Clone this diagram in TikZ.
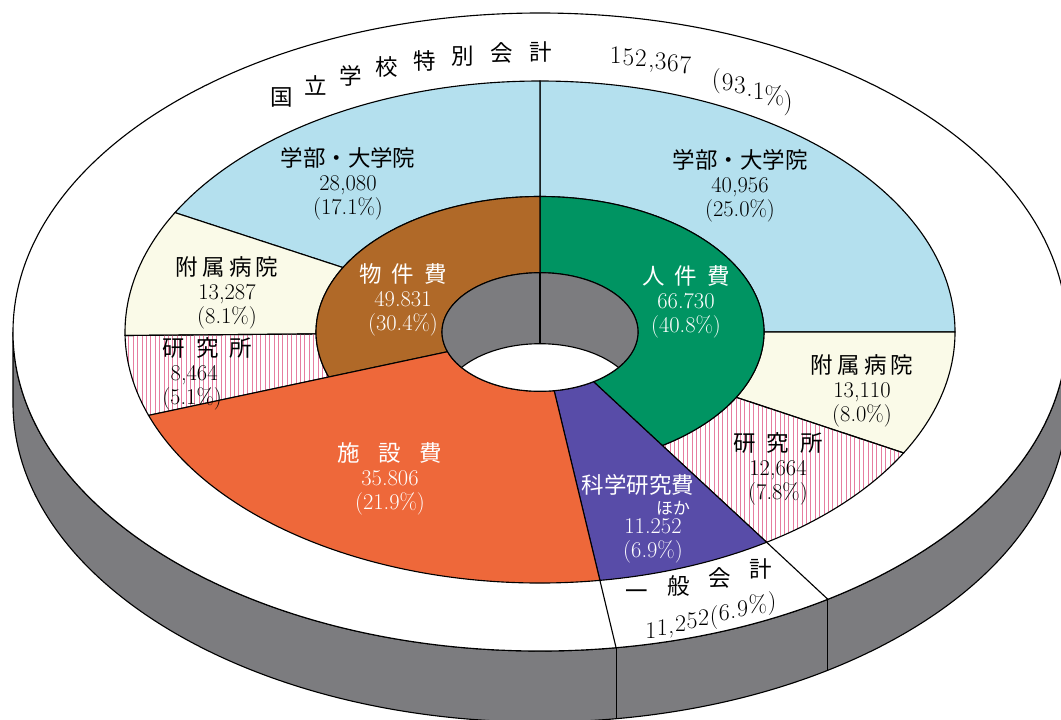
\documentclass[tikz,border=0pt]{standalone}
\usepackage{fontspec}
\newfontfamily\jp{Noto Sans CJK JP}
\newcommand{\jt}[1]{{\jp #1}}

\definecolor{gakubu}{RGB}{180,224,238}
\definecolor{fuzoku}{RGB}{250,250,232}
\definecolor{kenkyu}{RGB}{230,125,160}
\definecolor{jinken}{RGB}{0,148,98}
\definecolor{butsuken}{RGB}{176,105,40}
\definecolor{shisetsu}{RGB}{238,104,58}
\definecolor{kaken}{RGB}{88,76,168}
\definecolor{sidegray}{RGB}{124,124,127}

% ring segment: r1 b1 r2 b2 from-angle to-angle
\newcommand{\ringseg}[6]{(#5:#1 and #2) -- (#5:#3 and #4)
  arc[start angle=#5, end angle=#6, x radius=#3, y radius=#4]
  -- (#6:#1 and #2)
  arc[start angle=#6, end angle=#5, x radius=#1, y radius=#2] -- cycle}

\begin{document}
\begin{tikzpicture}[x=0.25mm, y=0.25mm,
    edge/.style={draw=black, line width=0.8pt},
    stripe/.style={draw=kenkyu, line width=0.6pt},
    lbl/.style={align=center, inner sep=0pt, font=\fontsize{16}{17}\selectfont},
    wlbl/.style={lbl, text=white},
    arcjp/.style={inner sep=0pt, font=\jp\fontsize{16}{16}\selectfont},
    arcnum/.style={inner sep=0pt, anchor=base, font=\fontsize{18}{18}\selectfont},
    glyph/.style={inner sep=0pt, anchor=base, font=\fontsize{17}{17}\selectfont}]
    \useasboundingbox (0,0) rectangle (1061,-719);
    \clip (0,0) rectangle (1061,-719);

    \begin{scope}[shift={(540,-332)}, yscale=-1]
        % disk side and top face
        \fill[sidegray, edge] (0:527 and 319)
            arc[start angle=0, end angle=180, x radius=527, y radius=319]
            -- ++(0,71)
            arc[start angle=180, end angle=0, x radius=527, y radius=319] -- cycle;
        \fill[white, edge] (0,0) ellipse [x radius=527, y radius=319];
        \draw[edge] (56.9:527 and 319) -- ++(0,71);
        \draw[edge] (81.7:527 and 319) -- ++(0,71);
        \draw[edge] (56.9:415 and 251) -- (56.9:527 and 319);
        \draw[edge] (81.7:415 and 251) -- (81.7:527 and 319);

        % middle ring
        \fill[gakubu, edge] \ringseg{224}{135.5}{415}{251}{-90}{0};
        \fill[fuzoku, edge] \ringseg{224}{135.5}{415}{251}{0}{28.8};
        \fill[gakubu, edge] \ringseg{224}{135.5}{415}{251}{208.4}{270};
        \fill[fuzoku, edge] \ringseg{224}{135.5}{415}{251}{179.2}{208.4};
        \begin{scope}
            \clip \ringseg{224}{135.5}{415}{251}{28.8}{56.9}
                  \ringseg{224}{135.5}{415}{251}{160.6}{179.2};
            \foreach \x in {-420,-415.6,...,420}
                \draw[stripe] (\x,-260) -- (\x,260);
        \end{scope}
        \draw[edge] \ringseg{224}{135.5}{415}{251}{28.8}{56.9};
        \draw[edge] \ringseg{224}{135.5}{415}{251}{160.6}{179.2};

        % inner ring
        \fill[jinken, edge] \ringseg{98}{59.3}{224}{135.5}{-90}{56.9};
        \fill[butsuken, edge] \ringseg{98}{59.3}{224}{135.5}{160.6}{270};
        \fill[kaken, edge] \ringseg{98}{59.3}{415}{251}{56.9}{81.7};
        \fill[shisetsu, edge] \ringseg{98}{59.3}{415}{251}{81.7}{160.6};

        % hole
        \fill[sidegray] (0,0) ellipse [x radius=98, y radius=59.3];
        \begin{scope}
            \clip (0,0) ellipse [x radius=98, y radius=59.3];
            \fill[white, edge] (0,71) ellipse [x radius=98, y radius=59.3];
        \end{scope}
        \draw[edge] (0,0) ellipse [x radius=98, y radius=59.3];
        \draw[edge] (0,-59.3) -- (0,11.7);
    \end{scope}

    % title along the rim, one glyph at a time
    \foreach \ch [count=\i] in {国,立,学,校,特,別,会,計} {
        \pgfmathsetmacro{\th}{-33.2+4.75*(\i-1)}
        \node[arcjp] (arc\i) at ({540+471*sin(\th)},{280*cos(\th)-332}) {\ch};
    }
    \foreach \ch/\th [count=\i] in {1/9.4, 5/11.0, 2/12.6, {,}/13.9, 3/15.1, 6/16.7, 7/18.3}
        \node[arcnum] (tot\i) at ({540+463*sin(\th)},{272*cos(\th)-332}) {\ch};
    \foreach \ch/\th [count=\i] in {{(}/22.4, 9/23.9, 3/25.6, ./26.9, 1/28.2, \%/30.4, {)}/32.4}
        \node[arcnum] (pct\i) at ({540+463*sin(\th)},{264*cos(\th)-332}) {\ch};

    % labels
    \node[lbl] (gakuL) at (348,-184) {\jt{学部・大学院}\\28,080\\(17.1\%)};
    \node[lbl] (gakuR) at (740,-186) {\jt{学部・大学院}\\40,956\\(25.0\%)};
    \node[lbl] (fuzokuL) at (227,-293) {\jt{附\hspace{3pt}属\hspace{3pt}病\hspace{3pt}院}\\13,287\\(8.1\%)};
    \node[lbl] (fuzokuR) at (862,-391) {\jt{附\hspace{3pt}属\hspace{3pt}病\hspace{3pt}院}\\13,110\\(8.0\%)};
    \node[lbl, align=left, anchor=west] (kenkyuL) at (162,-374)
        {\jt{研\hspace{8pt}究\hspace{8pt}所}\\\hspace{6pt}8,464\\(5.1\%)};
    \node[lbl] (kenkyuR) at (778,-469) {\jt{研\hspace{8pt}究\hspace{8pt}所}\\12,664\\(7.8\%)};
    \node[wlbl] (butsu) at (403,-300) {\jt{物\hspace{7pt}件\hspace{7pt}費}\\49.831\\(30.4\%)};
    \node[wlbl] (jin) at (686,-302) {\jt{人\hspace{7pt}件\hspace{7pt}費}\\66.730\\(40.8\%)};
    \node[wlbl] (shisetsu) at (390,-479) {\jt{施\hspace{13pt}設\hspace{13pt}費}\\35.806\\(21.9\%)};
    \node[wlbl] (kaken) at (638,-485) {\jt{科学研究費}};
    \node[wlbl, font=\jp\fontsize{12}{12}\selectfont] (hoka) at (673,-508) {ほか};
    \node[wlbl] (kakenval) at (653,-541) {11.252\\(6.9\%)};

    % general account, stepped along the rim
    \foreach \ch/\x/\y [count=\i] in {一/637/595, 般/679/586, 会/720/578, 計/761/569}
        \node[arcjp] (ippan\i) at (\x,-\y) {\ch};
    \foreach \ch/\s [count=\i] in {1/6.0, 1/17.9, {,}/27.2, 2/36.5, 5/48.5, 2/60.4,
                                   {(}/71.0, 6/81.7, ./91.0, 9/100.3, \%/116.2, {)}/130.8}
        \node[glyph] (ippanv\i) at ({645+0.972*\s},{0.233*\s-640}) {\ch};
\end{tikzpicture}
\end{document}
